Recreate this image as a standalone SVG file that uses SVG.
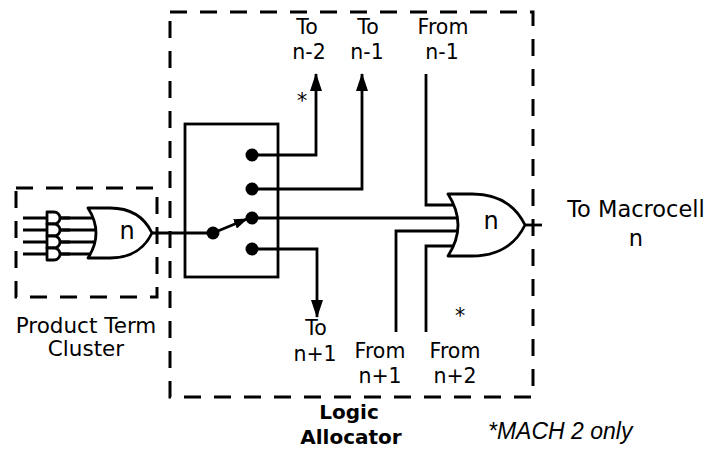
<svg xmlns="http://www.w3.org/2000/svg" width="709" height="451" viewBox="0 0 709 451">
<style>
.w{fill:none;stroke:#000;stroke-width:2.8;stroke-linejoin:miter}
.d{fill:none;stroke:#000;stroke-width:3;stroke-dasharray:17 13}
.g{fill:#fff;stroke:#000;stroke-width:2.8;stroke-linejoin:round}
.t{font-family:"DejaVu Sans",sans-serif;font-size:20.5px;fill:#000;text-anchor:middle}
.b{font-family:"DejaVu Sans",sans-serif;font-size:20px;font-weight:bold;fill:#000;text-anchor:middle}
.i{font-family:"Liberation Sans",Arial,sans-serif;font-size:23px;font-style:italic;fill:#000}
</style>
<defs>
<marker id="ah" markerUnits="userSpaceOnUse" markerWidth="18" markerHeight="12" refX="17" refY="6" orient="auto">
<path d="M0,0 L18,6 L0,12 Z" fill="#000"/>
</marker>
<marker id="ahs" markerUnits="userSpaceOnUse" markerWidth="14" markerHeight="10" refX="13" refY="5" orient="auto">
<path d="M0,0 L14,5 L0,10 Z" fill="#000"/>
</marker>
</defs>
<rect width="709" height="451" fill="#fff"/>

<g id="logic-allocator-box">
<path class="d" d="M170,12 H533 V397 H170 Z"/>
<text class="b" x="349" y="419">Logic</text>
<text class="b" x="351" y="444">Allocator</text>
</g>

<g id="product-term-cluster-box">
<path class="d" d="M16,188 H157 V297 H16 Z"/>
<text class="t" x="86" y="333" style="font-size:21.5px">Product Term</text>
<text class="t" x="86" y="356" style="font-size:21.5px">Cluster</text>
</g>

<g id="connectors">
<path class="w" d="M23,218 H70 M23,230 H70 M23,242 H70 M23,254 H70"/>
<path class="w" d="M60,218 H100 M60,230 H100 M60,242 H100 M60,254 H100"/>
<path class="w" d="M152,233 H213"/>
<path class="w" d="M252,155 H316 V74" marker-end="url(#ah)"/>
<path class="w" d="M252,189 H362 V74" marker-end="url(#ah)"/>
<path class="w" d="M252,218 H465"/>
<path class="w" d="M252,249 H317 V317" marker-end="url(#ah)"/>
<path class="w" d="M426,74 V205 H465"/>
<path class="w" d="M396,332 V231 H465"/>
<path class="w" d="M426,332 V246 H465"/>
<path class="w" d="M525,225 H542"/>
<path class="w" d="M213,233 L247,219" marker-end="url(#ahs)"/>
</g>

<g id="and-gates">
<path class="g" d="M47,212 H54 A6,6 0 0 1 54,224 H47 Z"/>
<path class="g" d="M47,224 H54 A6,6 0 0 1 54,236 H47 Z"/>
<path class="g" d="M47,236 H54 A6,6 0 0 1 54,248 H47 Z"/>
<path class="g" d="M47,248 H54 A6,6 0 0 1 54,260 H47 Z"/>
</g>

<g id="or-gate-cluster">
<path class="g" d="M88,208 L110,208 Q140,208 152,233 Q140,258 110,258 L88,258 Q104,233 88,208 Z"/>
<text class="t" x="127" y="239" style="font-size:24px">n</text>
</g>

<g id="switch">
<rect class="w" x="185" y="124" width="93" height="153"/>
<circle cx="252" cy="155" r="6.5"/>
<circle cx="252" cy="189" r="6.5"/>
<circle cx="252" cy="218" r="6.5"/>
<circle cx="252" cy="249" r="6.5"/>
<circle cx="213" cy="233" r="6.5"/>
</g>

<g id="or-gate-macrocell">
<path class="g" d="M448,194 L472,194 Q510,194 525,225 Q510,256 472,256 L448,256 Q468,225 448,194 Z"/>
<text class="t" x="491" y="229" style="font-size:24px">n</text>
</g>

<g id="labels">
<text class="t" x="307" y="34">To</text>
<text class="t" x="309" y="59">n-2</text>
<text class="t" x="368" y="34">To</text>
<text class="t" x="367" y="59">n-1</text>
<text class="t" x="443" y="34">From</text>
<text class="t" x="442" y="59">n-1</text>
<text class="t" x="302" y="108">*</text>
<text class="t" x="316" y="335">To</text>
<text class="t" x="315" y="361">n+1</text>
<text class="t" x="380" y="358">From</text>
<text class="t" x="380" y="383">n+1</text>
<text class="t" x="455" y="358">From</text>
<text class="t" x="455" y="383">n+2</text>
<text class="t" x="460" y="323">*</text>
<text class="t" x="636" y="217" style="font-size:22.5px">To Macrocell</text>
<text class="t" x="636" y="246" style="font-size:22.5px">n</text>
<text class="i" x="488" y="439">*MACH 2 only</text>
</g>
</svg>
